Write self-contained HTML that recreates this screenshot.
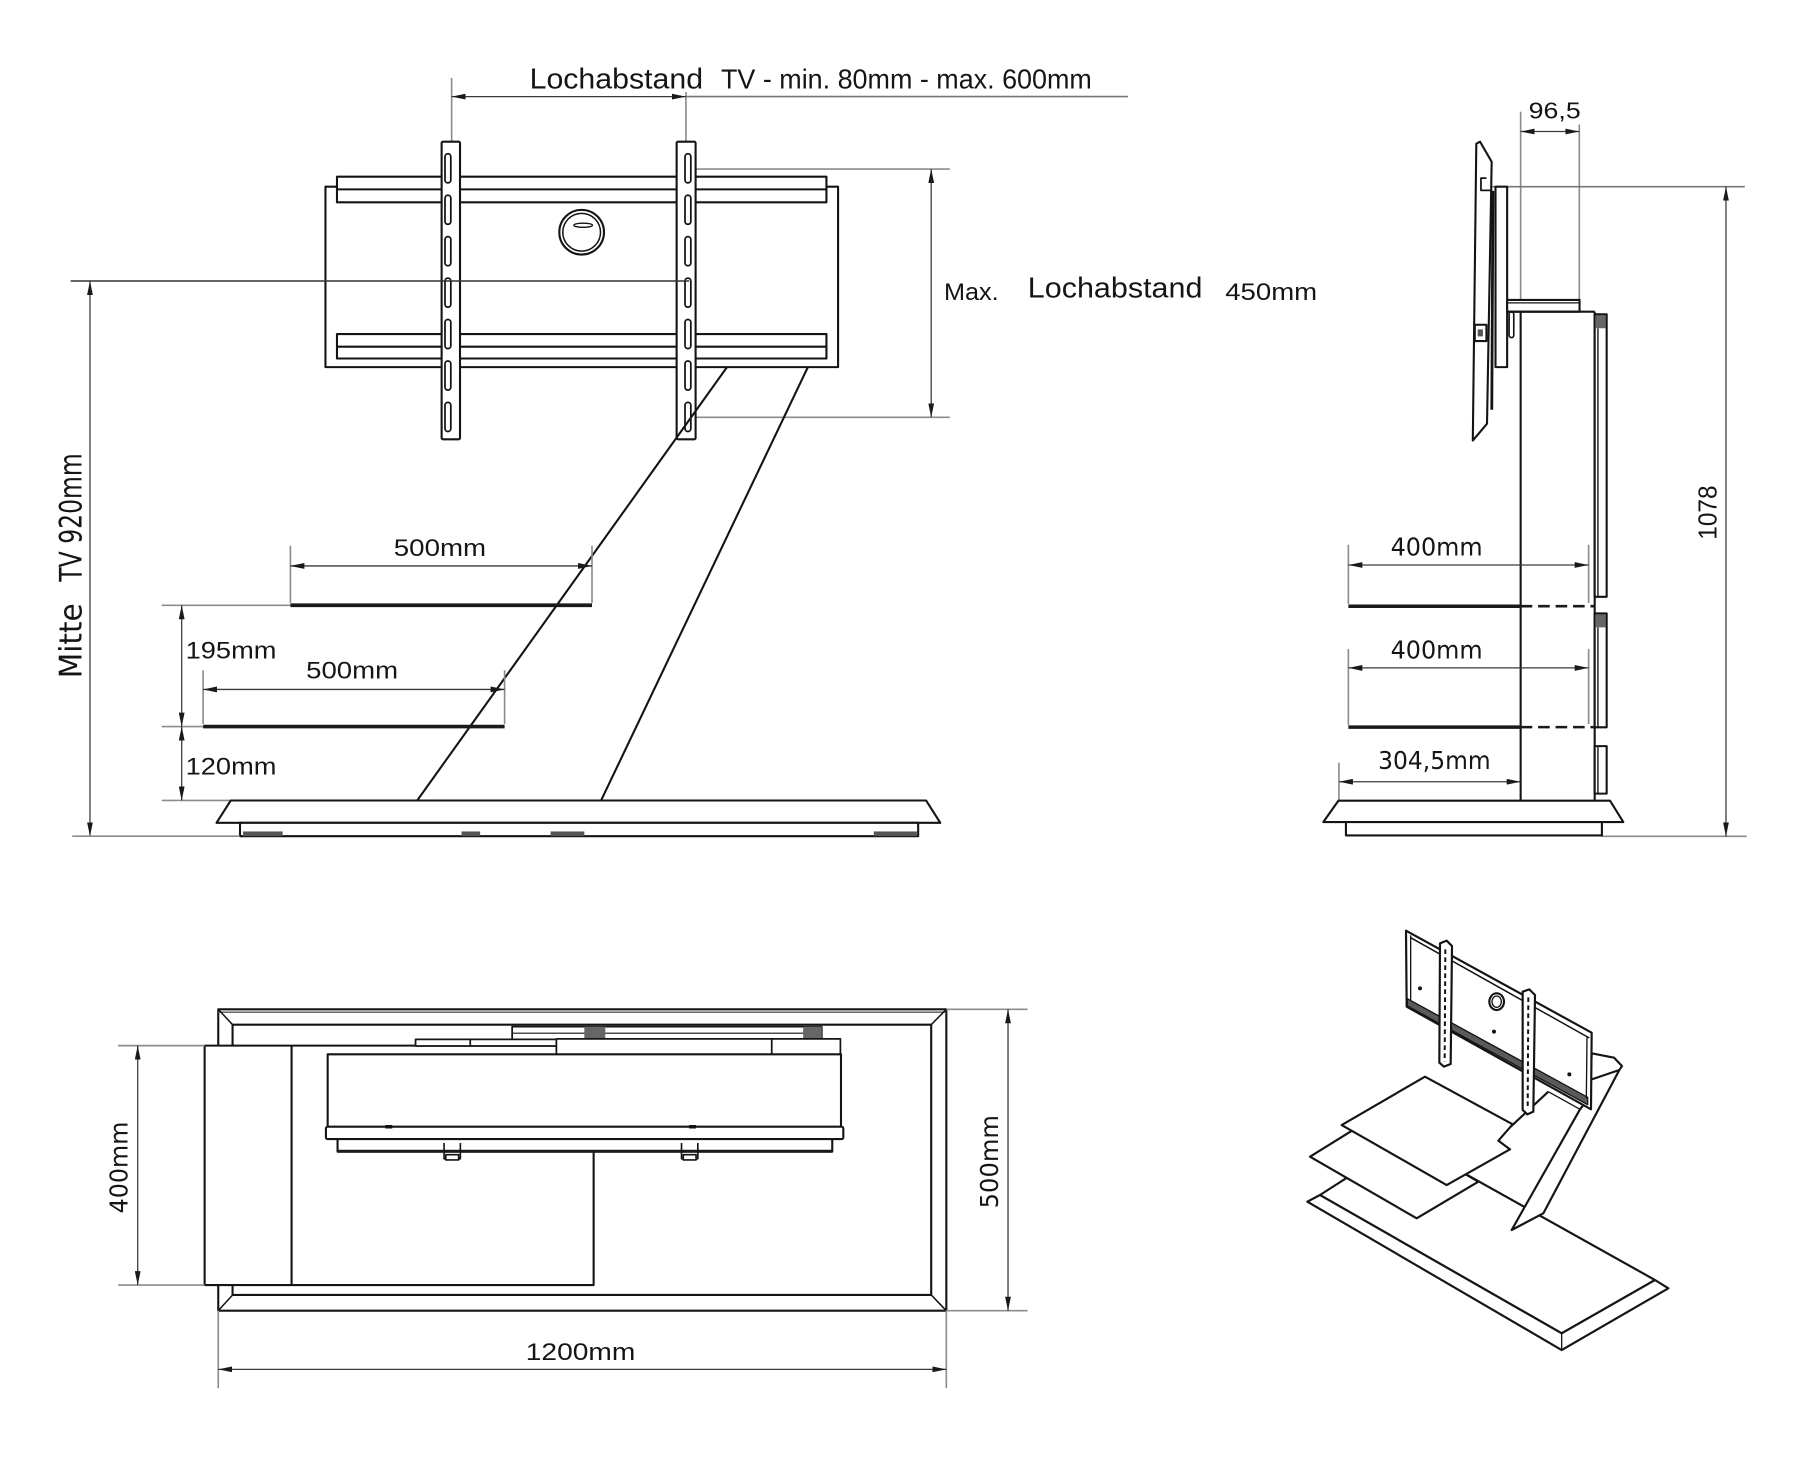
<!DOCTYPE html>
<html><head><meta charset="utf-8"><style>
html,body{margin:0;padding:0;background:#fff;}
svg{display:block;}
.o{stroke:#141414;stroke-width:1.8;fill:none;stroke-linejoin:round}
.w{fill:#fff}
.d{stroke:#3a3a3a;stroke-width:1.1;fill:none}
.e{stroke:#8c8c8c;stroke-width:1.4;fill:none}
text{fill:#151515;}
.n{font-family:"Liberation Sans",sans-serif;}
.v{font-family:"DejaVu Sans","Liberation Sans",sans-serif;}
</style></head><body>
<svg width="1816" height="1484" viewBox="0 0 1560.14 1274.91" preserveAspectRatio="none" xmlns="http://www.w3.org/2000/svg">
<defs>
<marker id="a" viewBox="0 0 12 5" refX="12" refY="2.5" markerWidth="12" markerHeight="5" markerUnits="userSpaceOnUse" orient="auto-start-reverse"><path d="M0,0 L12,2.5 L0,5 z" fill="#1a1a1a"/></marker>
</defs>
<rect x="0" y="0" width="1560.14" height="1274.91" fill="#fff"/>

<!-- ================= FRONT VIEW ================= -->
<!-- Lochabstand dimension -->
<line class="e" x1="388" y1="67" x2="388" y2="132"/>
<line class="e" x1="589.3" y1="79" x2="589.3" y2="132"/>
<line class="e" x1="589.3" y1="83" x2="969" y2="83" style="stroke:#777"/>
<line class="d" x1="388" y1="83" x2="589.3" y2="83" marker-start="url(#a)" marker-end="url(#a)"/>
<text class="n" x="455" y="75.9" font-size="25" textLength="149" lengthAdjust="spacingAndGlyphs">Lochabstand</text>
<text class="n" x="619.4" y="75.9" font-size="24" textLength="318.6" lengthAdjust="spacingAndGlyphs">TV - min. 80mm - max. 600mm</text>

<!-- Max dimension -->
<line class="e" x1="594" y1="145.2" x2="816" y2="145.2"/>
<line class="e" x1="598" y1="358.5" x2="816" y2="358.5"/>
<line class="d" x1="800" y1="145.2" x2="800" y2="358.5" marker-start="url(#a)" marker-end="url(#a)"/>
<text class="n" x="811" y="257.7" font-size="21" textLength="47" lengthAdjust="spacingAndGlyphs">Max.</text>
<text class="n" x="883" y="255.7" font-size="25" textLength="150" lengthAdjust="spacingAndGlyphs">Lochabstand</text>
<text class="n" x="1052.6" y="257.7" font-size="21" textLength="79" lengthAdjust="spacingAndGlyphs">450mm</text>

<!-- frame -->
<rect class="o w" x="279.6" y="160.4" width="440.4" height="155"/>
<rect class="o w" x="289.5" y="151.8" width="420.5" height="22"/>
<line class="o" x1="289.5" y1="162.7" x2="710" y2="162.7"/>
<rect class="o w" x="289.5" y="287" width="420.5" height="21"/>
<line class="o" x1="289.5" y1="297.8" x2="710" y2="297.8"/>
<circle class="o" cx="499.7" cy="199.5" r="19.2"/>
<circle class="o" cx="499.7" cy="199.5" r="16.2" style="stroke-width:1.3"/>
<ellipse class="o" cx="501" cy="193.5" rx="8" ry="1.8" style="stroke-width:1.2"/>

<!-- brackets -->
<rect class="o w" x="379.4" y="121.7" width="15.8" height="255.7" rx="1.2"/>
<rect class="o w" x="581.3" y="121.7" width="16.3" height="255.7" rx="1.2"/>
<g class="o" style="stroke-width:1.5">
<rect x="382.3" y="132.1" width="5" height="25" rx="2.5"/>
<rect x="382.3" y="167.7" width="5" height="25" rx="2.5"/>
<rect x="382.3" y="203.3" width="5" height="25" rx="2.5"/>
<rect x="382.3" y="238.9" width="5" height="25" rx="2.5"/>
<rect x="382.3" y="274.5" width="5" height="25" rx="2.5"/>
<rect x="382.3" y="310.1" width="5" height="25" rx="2.5"/>
<rect x="382.3" y="345.7" width="5" height="25" rx="2.5"/>
<rect x="588.5" y="132.1" width="5" height="25" rx="2.5"/>
<rect x="588.5" y="167.7" width="5" height="25" rx="2.5"/>
<rect x="588.5" y="203.3" width="5" height="25" rx="2.5"/>
<rect x="588.5" y="238.9" width="5" height="25" rx="2.5"/>
<rect x="588.5" y="274.5" width="5" height="25" rx="2.5"/>
<rect x="588.5" y="310.1" width="5" height="25" rx="2.5"/>
<rect x="588.5" y="345.7" width="5" height="25" rx="2.5"/>
</g>

<!-- center line and Mitte dim -->
<line class="d" x1="60.7" y1="241.4" x2="592" y2="241.4" style="stroke:#333;stroke-width:1.3"/>
<line class="d" x1="77.3" y1="241.4" x2="77.3" y2="718.4" marker-start="url(#a)" marker-end="url(#a)"/>
<text class="v" transform="translate(70.2,582.7) rotate(-90)" font-size="27" textLength="64.4" lengthAdjust="spacingAndGlyphs">Mitte</text>
<text class="v" transform="translate(70.2,499.7) rotate(-90)" font-size="27" textLength="110.3" lengthAdjust="spacingAndGlyphs">TV 920mm</text>

<!-- legs -->
<line class="o" x1="624.5" y1="315.5" x2="358.4" y2="687.7"/>
<line class="o" x1="694" y1="315.5" x2="516.4" y2="687.7"/>

<!-- shelves -->
<line class="e" x1="139" y1="520" x2="249.5" y2="520"/>
<line class="e" x1="139" y1="624.2" x2="174.5" y2="624.2"/>
<line class="e" x1="139" y1="687.7" x2="198" y2="687.7"/>
<line x1="249.5" y1="520" x2="508.6" y2="520" stroke="#1a1a1a" stroke-width="3.2"/>
<line x1="174.5" y1="624.2" x2="433.5" y2="624.2" stroke="#1a1a1a" stroke-width="3.2"/>

<!-- 500mm dims -->
<line class="e" x1="249.5" y1="468.8" x2="249.5" y2="518"/>
<line class="e" x1="508.6" y1="468.8" x2="508.6" y2="518"/>
<line class="d" x1="249.5" y1="486.2" x2="508.6" y2="486.2" marker-start="url(#a)" marker-end="url(#a)"/>
<text class="n" x="338.3" y="477.5" font-size="21" textLength="79.3" lengthAdjust="spacingAndGlyphs">500mm</text>
<line class="e" x1="174.5" y1="575.8" x2="174.5" y2="622"/>
<line class="e" x1="433.5" y1="575.8" x2="433.5" y2="622"/>
<line class="d" x1="174.5" y1="592.3" x2="433.5" y2="592.3" marker-start="url(#a)" marker-end="url(#a)"/>
<text class="n" x="263" y="583" font-size="21" textLength="79" lengthAdjust="spacingAndGlyphs">500mm</text>

<!-- 195 / 120 -->
<line class="d" x1="156.1" y1="520" x2="156.1" y2="624.2" marker-start="url(#a)" marker-end="url(#a)"/>
<line class="d" x1="156.1" y1="624.2" x2="156.1" y2="687.7" marker-start="url(#a)" marker-end="url(#a)"/>
<text class="n" x="159.5" y="565.7" font-size="21" textLength="78" lengthAdjust="spacingAndGlyphs">195mm</text>
<text class="n" x="159.5" y="665.5" font-size="21" textLength="78" lengthAdjust="spacingAndGlyphs">120mm</text>

<!-- base -->
<polygon class="o w" points="198.3,687.7 795.6,687.7 807.8,706.9 186,706.9"/>
<rect class="o w" x="206.2" y="706.9" width="582.6" height="11.5"/>
<g fill="#555">
<rect x="208.8" y="714.3" width="34" height="4"/>
<rect x="396.5" y="714.3" width="16" height="4"/>
<rect x="473" y="714.3" width="29" height="4"/>
<rect x="750.7" y="714.3" width="37" height="4"/>
</g>
<line class="e" x1="62" y1="718.4" x2="206" y2="718.4"/>

<!-- ================= SIDE VIEW ================= -->
<!-- 96,5 -->
<line class="e" x1="1306.4" y1="96" x2="1306.4" y2="258"/>
<line class="e" x1="1356.8" y1="107" x2="1356.8" y2="257.7"/>
<line class="d" x1="1306.4" y1="113" x2="1356.8" y2="113" marker-start="url(#a)" marker-end="url(#a)"/>
<text class="n" x="1313.3" y="101.6" font-size="20" textLength="44.7" lengthAdjust="spacingAndGlyphs">96,5</text>

<!-- 1078 -->
<line class="e" x1="1281" y1="160.4" x2="1499" y2="160.4" style="stroke:#777"/>
<line class="e" x1="1376" y1="718.5" x2="1500.6" y2="718.5"/>
<line class="d" x1="1482.8" y1="160.4" x2="1482.8" y2="718.5" marker-start="url(#a)" marker-end="url(#a)"/>
<text class="n" transform="translate(1474.8,463.7) rotate(-90)" font-size="22" textLength="46.7" lengthAdjust="spacingAndGlyphs">1078</text>

<!-- TV panel -->
<polygon class="o w" points="1268.3,123.5 1271.5,121.7 1281.5,139 1277.5,364 1265.3,378.5"/>
<path class="o" d="M1277,153 L1272.3,153 L1272.3,163.5 L1282,163.5" style="stroke-width:1.5"/>
<line class="o" x1="1282.6" y1="164" x2="1281.6" y2="352" style="stroke-width:2.4"/>
<rect class="o w" x="1267" y="279" width="10" height="14"/>
<rect x="1269.5" y="283" width="4.5" height="6" fill="#555"/>
<!-- plate -->
<rect class="o w" x="1284.8" y="160.4" width="10" height="155"/>
<!-- arm -->
<rect class="o w" x="1294.8" y="257.7" width="62.2" height="10.1"/>
<line class="o" x1="1294.8" y1="260.2" x2="1357" y2="260.2" style="stroke-width:1"/>
<!-- column -->
<line class="o" x1="1294.8" y1="267.8" x2="1370" y2="267.8"/>
<line class="o" x1="1306.4" y1="267.8" x2="1306.4" y2="688"/>
<line class="o" x1="1370" y1="267.8" x2="1370" y2="688"/>
<rect class="o" x="1296.5" y="268" width="4" height="22" rx="2" style="stroke-width:1.4"/>
<!-- back panels -->
<rect class="o w" x="1370" y="270" width="10.3" height="242.7"/>
<line class="o" x1="1372.8" y1="282" x2="1372.8" y2="512.7" style="stroke-width:1.2"/>
<rect x="1371" y="271" width="8.3" height="11" fill="#666"/>
<rect class="o w" x="1370" y="527" width="10.3" height="97.8"/>
<line class="o" x1="1372.8" y1="539" x2="1372.8" y2="624.8" style="stroke-width:1.2"/>
<rect x="1371" y="528" width="8.3" height="11" fill="#666"/>
<rect class="o w" x="1370" y="641" width="10.3" height="40.8"/>
<line class="o" x1="1372.8" y1="641" x2="1372.8" y2="681.8" style="stroke-width:1.2"/>

<!-- shelves side -->
<line x1="1158.4" y1="520.8" x2="1306.4" y2="520.8" stroke="#1a1a1a" stroke-width="3"/>
<line x1="1306.4" y1="520.8" x2="1370" y2="520.8" stroke="#1a1a1a" stroke-width="2.2" stroke-dasharray="10,5"/>
<line x1="1158.4" y1="624.7" x2="1306.4" y2="624.7" stroke="#1a1a1a" stroke-width="3"/>
<line x1="1306.4" y1="624.7" x2="1370" y2="624.7" stroke="#1a1a1a" stroke-width="2.2" stroke-dasharray="10,5"/>
<!-- 400mm dims side -->
<line class="e" x1="1158.4" y1="468" x2="1158.4" y2="519"/>
<line class="e" x1="1364.8" y1="468" x2="1364.8" y2="518"/>
<line class="d" x1="1158.4" y1="485.4" x2="1364.8" y2="485.4" marker-start="url(#a)" marker-end="url(#a)"/>
<text class="v" x="1194.7" y="477.2" font-size="21" textLength="79.1" lengthAdjust="spacingAndGlyphs">400mm</text>
<line class="e" x1="1158.4" y1="557.5" x2="1158.4" y2="623"/>
<line class="e" x1="1364.8" y1="557.5" x2="1364.8" y2="622"/>
<line class="d" x1="1158.4" y1="573.8" x2="1364.8" y2="573.8" marker-start="url(#a)" marker-end="url(#a)"/>
<text class="v" x="1194.7" y="565.6" font-size="21" textLength="79.1" lengthAdjust="spacingAndGlyphs">400mm</text>
<!-- 304,5 -->
<line class="e" x1="1150.3" y1="655.3" x2="1150.3" y2="688"/>
<line class="d" x1="1150.3" y1="671.6" x2="1306.4" y2="671.6" marker-start="url(#a)" marker-end="url(#a)"/>
<text class="v" x="1184" y="660.6" font-size="21" textLength="96.6" lengthAdjust="spacingAndGlyphs">304,5mm</text>
<!-- side base -->
<polygon class="o w" points="1149.8,687.9 1383.2,687.9 1394.6,706.2 1136.9,706.2"/>
<rect class="o w" x="1156.3" y="706.2" width="219.9" height="11.5"/>

<!-- ================= TOP VIEW ================= -->
<rect class="o w" x="187.5" y="867.1" width="625.5" height="258.9"/>
<line class="o" x1="187.5" y1="869.6" x2="813" y2="869.6" style="stroke-width:1.2;stroke:#555"/>
<rect class="o" x="199.8" y="880.3" width="600.2" height="232.2"/>
<line class="o" x1="187.5" y1="867.1" x2="199.8" y2="880.3" style="stroke-width:1.3"/>
<line class="o" x1="813" y1="867.1" x2="800" y2="880.3" style="stroke-width:1.3"/>
<line class="o" x1="187.5" y1="1126" x2="199.8" y2="1112.5" style="stroke-width:1.3"/>
<line class="o" x1="813" y1="1126" x2="800" y2="1112.5" style="stroke-width:1.3"/>
<!-- shelf -->
<rect class="o w" x="175.8" y="898.3" width="334.2" height="205.7"/>
<line class="o" x1="250.5" y1="898.3" x2="250.5" y2="1104"/>
<!-- top boxes -->
<rect class="o w" x="440" y="882" width="266" height="11" style="stroke-width:1.5"/>
<line class="o" x1="440" y1="887.6" x2="706" y2="887.6" style="stroke-width:1"/>
<rect x="502" y="882" width="18" height="11" fill="#666"/>
<rect x="690" y="882" width="16" height="11" fill="#666"/>
<rect class="o w" x="357" y="892.9" width="121" height="5.7" style="stroke-width:1.5"/>
<line class="o" x1="404" y1="892.9" x2="404" y2="898.6" style="stroke-width:1.5"/>
<rect class="o w" x="478" y="892.5" width="244" height="13.3" style="stroke-width:1.5"/>
<line class="o" x1="663" y1="892.5" x2="663" y2="905.8" style="stroke-width:1.5"/>
<!-- TV frame -->
<rect class="o w" x="281.5" y="905.8" width="441" height="62.2"/>
<rect class="o w" x="280" y="968" width="444.5" height="10.6" rx="1.5"/>
<rect class="o w" x="290" y="978.6" width="425" height="10.8"/>
<line x1="290" y1="989" x2="715" y2="989" stroke="#1a1a1a" stroke-width="2.4"/>
<line x1="331" y1="968" x2="337" y2="968" stroke="#111" stroke-width="3"/>
<line x1="592" y1="968" x2="598" y2="968" stroke="#111" stroke-width="3"/>
<!-- clips -->
<g class="o" style="stroke-width:1.4">
<path d="M381.5,982 V995.5 H395.5 V982"/>
<rect x="383" y="992" width="11" height="4.5" fill="#fff"/>
<path d="M585.5,982 V995.5 H599.5 V982"/>
<rect x="587" y="992" width="11" height="4.5" fill="#fff"/>
</g>
<!-- top-view dims -->
<line class="e" x1="101.5" y1="898.3" x2="175.8" y2="898.3"/>
<line class="e" x1="101.5" y1="1104" x2="175.8" y2="1104"/>
<line class="d" x1="118.3" y1="898.3" x2="118.3" y2="1104" marker-start="url(#a)" marker-end="url(#a)"/>
<text class="v" transform="translate(109.5,1042.4) rotate(-90)" font-size="21.5" textLength="78.8" lengthAdjust="spacingAndGlyphs">400mm</text>
<line class="e" x1="813" y1="867.1" x2="882.8" y2="867.1"/>
<line class="e" x1="813" y1="1126" x2="882.8" y2="1126"/>
<line class="d" x1="866" y1="867.1" x2="866" y2="1126" marker-start="url(#a)" marker-end="url(#a)"/>
<text class="v" transform="translate(857.5,1038.1) rotate(-90)" font-size="21.5" textLength="80.2" lengthAdjust="spacingAndGlyphs">500mm</text>
<line class="e" x1="187.5" y1="1126" x2="187.5" y2="1192.6"/>
<line class="e" x1="813" y1="1126" x2="813" y2="1192.6"/>
<line class="d" x1="187.5" y1="1176.4" x2="813" y2="1176.4" marker-start="url(#a)" marker-end="url(#a)"/>
<text class="n" x="451.7" y="1168.4" font-size="21" textLength="94.1" lengthAdjust="spacingAndGlyphs">1200mm</text>

<!-- ================= ISOMETRIC VIEW ================= -->
<g transform="translate(1108.25,781.79) scale(0.28637)" stroke="#141414" stroke-width="6.5" stroke-linejoin="round" fill="#fff">
<!-- base -->
<polygon points="346,691 1095,1110 815,1270 90,855"/>
<polygon points="90,855 815,1270 1095,1110 1135,1135 815,1320 52,875"/>
<line x1="815" y1="1270" x2="815" y2="1320" stroke-width="4"/>
<!-- leg -->
<line x1="660" y1="652" x2="775" y2="545"/>
<line x1="775" y1="545" x2="870" y2="598" stroke-width="4"/>
<polygon points="665,960 870,598 900,560 905,430 972,443 996,468 988,480 760,910"/>
<line x1="905" y1="508" x2="988" y2="480"/>
<!-- lower shelf -->
<polygon points="60,740 241,628 565,815 380,925"/>
<!-- upper shelf -->
<polygon points="155,645 405,500 668,643 625,692 660,718 470,825"/>
<!-- plate -->
<polygon points="348,62 905,368 903,598 350,290"/>
<polygon points="352,266 893,562 893,584 352,288" fill="#5a5a5a" stroke-width="4"/>
<line x1="360" y1="82" x2="898" y2="384" stroke-width="4.5"/>
<line x1="362" y1="76" x2="362" y2="270" stroke-width="4"/>
<line x1="891" y1="382" x2="889" y2="565" stroke-width="4"/>
<ellipse cx="620" cy="275" rx="22" ry="25"/>
<ellipse cx="620" cy="275" rx="14" ry="17" stroke-width="4"/>
<circle cx="390" cy="235" r="6" fill="#141414" stroke="none"/>
<circle cx="612" cy="365" r="6" fill="#141414" stroke="none"/>
<circle cx="838" cy="493" r="6" fill="#141414" stroke="none"/>
<!-- strips -->
<polygon points="450,100 470,92 486,108 482,462 462,470 448,458"/>
<line x1="466" y1="118" x2="464" y2="455" stroke-width="6" stroke-dasharray="14,10"/>
<polygon points="698,245 718,238 735,255 730,605 712,613 698,600"/>
<line x1="715" y1="262" x2="713" y2="598" stroke-width="6" stroke-dasharray="14,10"/>
</g>
</svg>
</body></html>
